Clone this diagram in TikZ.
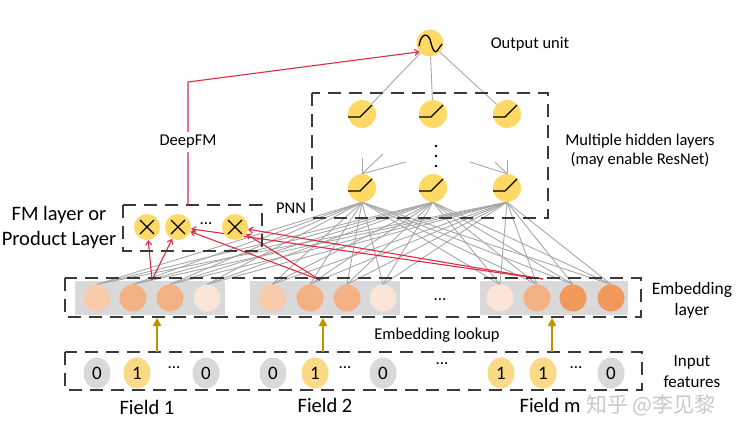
\documentclass[tikz,border=0pt]{standalone}
\usepackage{fontspec}
\setmainfont{Carlito}
\newfontfamily\cjkfont{Noto Sans CJK SC}
\usetikzlibrary{arrows.meta,calc,shapes.geometric}
\definecolor{nodeyel}{HTML}{FFD966}
\definecolor{inyel}{HTML}{FADA84}
\definecolor{ingray}{HTML}{D9D9D9}
\definecolor{embbg}{HTML}{D9D9D9}
\definecolor{embA}{HTML}{F8CBAD}
\definecolor{embB}{HTML}{F4B183}
\definecolor{embC}{HTML}{FBE5D6}
\definecolor{embD}{HTML}{F0995A}
\definecolor{dashc}{HTML}{3A3A3A}
\definecolor{linegray}{HTML}{A8A8A8}
\definecolor{redc}{HTML}{DC2C44}
\definecolor{goldc}{HTML}{BF9000}
\definecolor{wmark}{HTML}{C8C8C8}
\pgfdeclarelayer{bg}
\pgfdeclarelayer{lines}
\pgfsetlayers{bg,lines,main}
\tikzset{
  dashbox/.style={draw=dashc,line width=1.4pt,dash pattern=on 13pt off 8pt},
  hid/.style={circle,fill=nodeyel,minimum size=28pt,inner sep=0pt},
  fmn/.style={circle,fill=nodeyel,minimum size=26pt,inner sep=0pt},
  embn/.style={circle,minimum size=27pt,inner sep=0pt},
  inp/.style={ellipse,minimum width=27pt,minimum height=31pt,inner sep=0pt,font=\fontsize{19}{22}\selectfont},
  grayline/.style={draw=linegray,line width=0.9pt},
  redarr/.style={draw=redc,line width=1.1pt,-{Straight Barb[length=4pt,width=6pt]}},
  goldarr/.style={draw=goldc,line width=2pt,-{Triangle[length=8pt,width=8pt]}},
  glyph/.style={draw=black,line width=1.3pt},
  lbl/.style={font=\fontsize{16.5}{19}\selectfont,inner sep=0pt},
  biglbl/.style={font=\fontsize{20.5}{25}\selectfont,inner sep=0pt,align=center},
  dotlbl/.style={font=\fontsize{17}{19}\selectfont,inner sep=0pt},
}
\begin{document}
\begin{tikzpicture}[x=1pt,y=-1pt]
\begin{pgfonlayer}{bg}
\fill[white] (0,0) rectangle (736,440);
\end{pgfonlayer}
\useasboundingbox (0,0) rectangle (736,440);

% output unit
\node[hid,minimum size=27pt] (o) at (430,43) {};
% hidden layers
\foreach \n/\x in {1/362,2/433,3/507}{
  \node[hid] (t\n) at (\x,114) {};
  \node[hid] (h\n) at (\x,188) {};
}
% FM nodes
\node[fmn] (f1) at (147,227) {};
\node[fmn] (f2) at (178,227) {};
\node[fmn] (f3) at (235,227) {};
\node[dotlbl] (fmdots) at (206,224) {...};

% embedding backgrounds
\begin{pgfonlayer}{bg}
\fill[embbg] (75,281) rectangle (225,315);
\fill[embbg] (250,281) rectangle (400,315);
\fill[embbg] (480,281) rectangle (628,315);
\end{pgfonlayer}
% embedding circles
\foreach \n/\x/\c in {1/97/embA,2/133/embB,3/170/embB,4/207/embC,
                      5/272/embA,6/310/embB,7/347/embB,8/383/embC,
                      9/500/embC,10/537/embB,11/573/embD,12/611/embD}{
  \node[embn,fill=\c] (e\n) at (\x,298) {};
}
\node[dotlbl] (edots) at (440,300) {...};

% input features
\foreach \n/\x/\c/\t in {1/97/ingray/0,2/137/inyel/1,3/206/ingray/0,
                         4/273/ingray/0,5/315/inyel/1,6/383/ingray/0,
                         7/501/inyel/1,8/543/inyel/1,9/611/ingray/0}{
  \node[inp,fill=\c] (i\n) at (\x,373) {\t};
}
\node[dotlbl] (idots1) at (174,368) {...};
\node[dotlbl] (idots2) at (345,368) {...};
\node[dotlbl] (idots3) at (442,364) {...};
\node[dotlbl] (idots4) at (576,368) {...};

% dashed boxes
\draw[dashbox] (312,93) rectangle (548,218);
\draw[dashbox] (123,205) rectangle (262,251);
\draw[dashbox] (65,278) rectangle (641,317);
\draw[dashbox] (65,352) rectangle (642,390);

% gray lines embedding -> hidden
\begin{pgfonlayer}{lines}
\foreach \e in {1,...,12}{
  \foreach \h in {1,2,3}{
    \draw[grayline] (e\e.north) -- (h\h.south);
  }
}
\foreach \h in {1,2,3}{
  \draw[grayline] (o) -- (t\h);
}
% small incoming lines to bottom hidden layer
\coordinate (s1) at (362,158);
\coordinate (s2) at (383,154);
\coordinate (s3) at (406,162);
\coordinate (s4) at (470,162);
\coordinate (s5) at (495,162);
\coordinate (s6) at (507,160);
\draw[grayline] (s1) -- (h1.north);
\draw[grayline] (s2) -- (h1.north);
\draw[grayline] (s3) -- (h1.north);
\draw[grayline] (s4) -- (h3.north);
\draw[grayline] (s5) -- (h3.north);
\draw[grayline] (s6) -- (h3.north);
% red lines embedding -> FM
\coordinate (p1) at (152,280);
\coordinate (p2) at (320,280);
\coordinate (p3) at (543,279);
\draw[redarr] (p1) -- (f1);
\draw[redarr] (p1) -- (f2);
\draw[redarr] (p2) -- (f2);
\draw[redarr] (p2) -- (f3);
\draw[redarr] (p3) -- (f2);
\draw[redarr] (p3) -- (f3);
\end{pgfonlayer}

% vertical dots between hidden layers
\foreach \y in {146,156,166}{
  \fill[black] (436,\y) circle (1.4);
}

% glyphs
\foreach \n in {t1,t2,t3,h1,h2,h3}{
  \draw[glyph] ($(\n)+(-14,3)$) -- ($(\n)+(-2,3)$) -- ($(\n)+(10,-9)$);
}
\draw[glyph] ($(o)+(-11,3)$) .. controls ($(o)+(-9,-11)$) and ($(o)+(-1,-11)$) .. ($(o)+(1,0)$)
   .. controls ($(o)+(3,8)$) and ($(o)+(5,10)$) .. ($(o)+(7,8)$) -- ($(o)+(12,1)$);
\foreach \n in {f1,f2,f3}{
  \draw[glyph] ($(\n)+(-7,-7)$) -- ($(\n)+(7,7)$);
  \draw[glyph] ($(\n)+(-7,7)$) -- ($(\n)+(7,-7)$);
}

% DeepFM connection
\coordinate (fmtop) at (188,205);
\coordinate (bend) at (188,82);
\draw[redarr] (fmtop) -- (bend) -- (o.220);
\node[lbl,fill=white,inner sep=3pt] (deepfm) at (188,142) {DeepFM};

% golden lookup arrows
\foreach \n/\x in {1/157,2/323,3/552}{
  \coordinate (ga\n) at (\x,352);
  \coordinate (gb\n) at (\x,318);
  \draw[goldarr] (ga\n) -- (gb\n);
}

% labels
\node[lbl] (outlbl) at (530,44) {Output unit};
\node[lbl,align=center] (hidlbl) at (640,151) {Multiple hidden layers\\(may enable ResNet)};
\node[lbl] (pnn) at (291,208) {PNN};
\node[biglbl] (fmlbl) at (59,228) {FM layer or\\Product Layer};
\node[lbl,font=\fontsize{17.5}{21}\selectfont,align=center] (emblbl) at (692,300) {Embedding\\layer};
\node[lbl,font=\fontsize{17}{21}\selectfont,align=center] (inlbl) at (692,372) {Input\\features};
\node[lbl] (lookup) at (437,335) {Embedding lookup};
\node[biglbl] (fld1) at (147,407) {Field 1};
\node[biglbl] (fld2) at (325,405) {Field 2};
\node[biglbl] (fldm) at (550,405) {Field m};
\node[font=\cjkfont\fontsize{21}{24}\selectfont,text=wmark,inner sep=0pt] (wm) at (651,405) {知乎 @李见黎};
\end{tikzpicture}
\end{document}
